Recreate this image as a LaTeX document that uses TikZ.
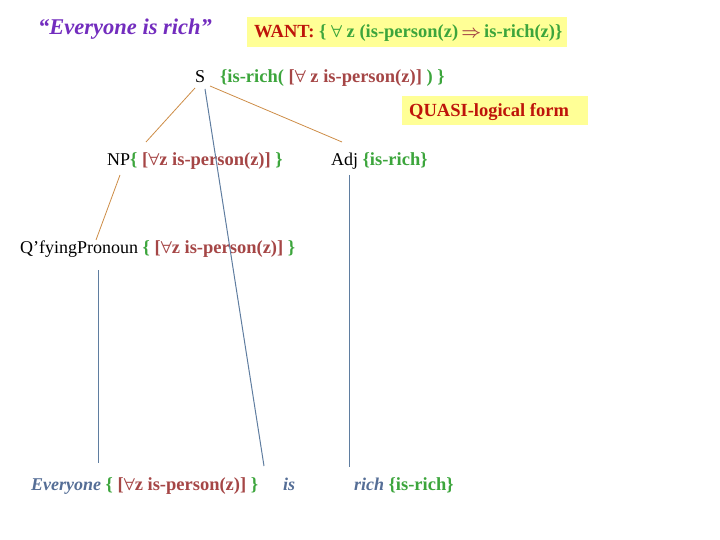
\documentclass[tikz,border=0pt]{standalone}
\usepackage{fontspec}
\setmainfont{Liberation Serif}
\definecolor{purp}{RGB}{115,45,190}
\definecolor{dred}{RGB}{190,20,10}
\definecolor{grn}{RGB}{60,165,60}
\definecolor{brn}{RGB}{165,70,70}
\definecolor{blu}{RGB}{85,110,150}
\definecolor{orl}{RGB}{205,140,70}
\definecolor{bll}{RGB}{95,125,160}
\definecolor{yel}{RGB}{255,255,150}
\newcommand{\annf}{\fontsize{18.5}{22}\selectfont\bfseries\boldmath}
\tikzset{
  txt/.style={anchor=base west,inner sep=0pt,font=\fontsize{18}{22}\selectfont},
  ann/.style={anchor=base west,inner sep=0pt,font=\annf},
  oline/.style={draw=orl,line width=0.8pt},
  bline/.style={draw=bll,line width=1pt},
}
\begin{document}
\begin{tikzpicture}[x=1pt,y=-1pt]
\useasboundingbox (0,0) rectangle (720,540);
% title
\node[txt,font=\fontsize{22.5}{26}\selectfont\bfseries\itshape,text=purp] (title) at (38,35) {“Everyone is rich”};
% WANT box
\fill[yel] (247,17) rectangle (567,47);
\node[ann,text=dred] (want) at (254,38) {WANT:~\textcolor{grn}{\{ $\forall$ z (is-person(z)\,\textcolor{brn}{$\Rightarrow$}\,is-rich(z)\}}};
% S
\node[txt] (S) at (195,83) {S};
\node[ann,text=grn] (Ssem) at (220,83) {\{is-rich( \textcolor{brn}{[$\forall$ z is-person(z)]} ) \}};
% QUASI box
\fill[yel] (402,96) rectangle (588,125);
\node[ann,text=dred] (quasi) at (409,117) {QUASI-logical form};
% NP
\node[txt] (NP) at (107,166) {NP\textcolor{grn}{\annf\{ \textcolor{brn}{[$\forall$z is-person(z)]} \}}};
% Adj
\node[txt] (Adj) at (331,166) {Adj \textcolor{grn}{\annf\{is-rich\}}};
% Q'fying
\node[txt] (Q) at (20,254) {Q’fyingPronoun \textcolor{grn}{\annf\{ \textcolor{brn}{[$\forall$z is-person(z)]} \}}};
% bottom
\node[txt] (Ev) at (31,490) {\textcolor{blu}{\bfseries\itshape Everyone} \textcolor{grn}{\annf\{ \textcolor{brn}{[$\forall$z is-person(z)]} \}}};
\node[txt,text=blu,font=\fontsize{18}{22}\selectfont\bfseries\itshape] (is) at (283,490) {is};
\node[txt] (rich) at (354,490) {\textcolor{blu}{\bfseries\itshape rich} \textcolor{grn}{\annf\{is-rich\}}};
% connector endpoints
\coordinate (s1) at (195,88);
\coordinate (s2) at (205,89);
\coordinate (s3) at (210,86);
\coordinate (np1) at (146,142);
\coordinate (np2) at (120,175);
\coordinate (adj1) at (342,142);
\coordinate (adj2) at (349,175);
\coordinate (q1) at (96,240);
\coordinate (q2) at (98,270);
\coordinate (ev1) at (98,463);
\coordinate (is1) at (264,466);
\coordinate (rich1) at (349,467);
\draw[oline] (s1) -- (np1);
\draw[bline] (s2) -- (is1);
\draw[oline] (s3) -- (adj1);
\draw[oline] (np2) -- (q1);
\draw[bline] (q2) -- (ev1);
\draw[bline] (adj2) -- (rich1);
\end{tikzpicture}
\end{document}
